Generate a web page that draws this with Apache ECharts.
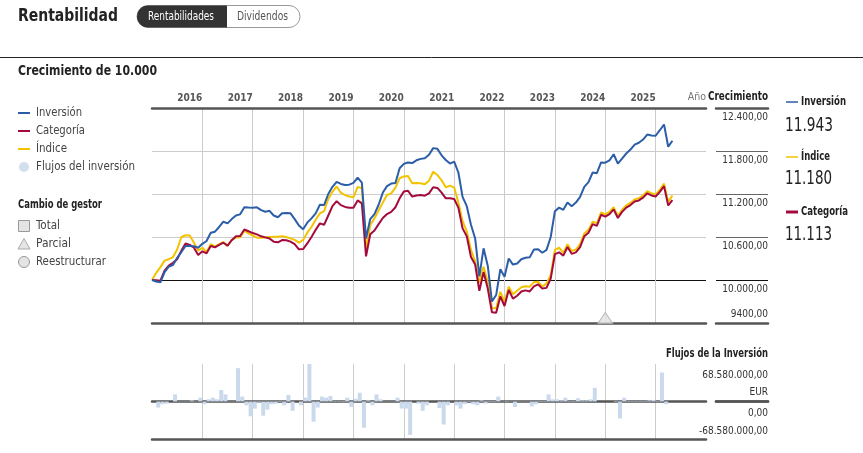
<!DOCTYPE html>
<html>
<head>
<meta charset="utf-8">
<title>Rentabilidad</title>
<script src="https://cdn.jsdelivr.net/npm/echarts@6/dist/echarts.min.js"></script>
<style>
  html, body { margin: 0; padding: 0; background: #fff; }
  #chart { width: 863px; height: 453px; }
</style>
</head>
<body>
<div id="chart"></div>
<script>
// crecimiento de 10.000, un valor por mes (mes 0 = inicio)
var inversion = [
  10000, 9980, 9968, 10110, 10186, 10210, 10310, 10390, 10474, 10474,
  10470, 10450, 10505, 10544, 10660, 10674, 10740, 10813, 10790, 10850,
  10900, 10916, 11014, 11010, 11009, 11014, 10975, 10953, 10965, 10900,
  10875, 10930, 10935, 10930, 10850, 10760, 10707, 10800, 10860, 10930,
  11050, 11045, 11200, 11300, 11370, 11340, 11325, 11330, 11355, 11430,
  11360, 10580, 10850, 10920, 11050, 11220, 11310, 11345, 11353, 11560,
  11620, 11640, 11632, 11670, 11690, 11700, 11748, 11840, 11830, 11740,
  11674, 11625, 11651, 11500, 11160, 11030, 10770, 10580, 10050, 10442,
  10200, 9700, 9790, 10150, 10046, 10300, 10215, 10230, 10290, 10310,
  10316, 10425, 10428, 10380, 10420, 10600, 10960, 11010, 10980, 11080,
  11030, 11080, 11160, 11300, 11365, 11500, 11490, 11640, 11637, 11670,
  11755, 11625, 11695, 11765, 11820, 11890, 11915, 11960, 12030, 12015,
  12013, 12090, 12170, 11860, 11943
]
var categoria = [
  10000, 9995, 9990, 10130, 10200, 10240, 10290, 10410, 10510, 10490,
  10450, 10350, 10400, 10372, 10474, 10456, 10490, 10520, 10480, 10555,
  10610, 10614, 10705, 10680, 10655, 10637, 10610, 10595, 10580, 10535,
  10526, 10558, 10555, 10535, 10500, 10428, 10432, 10510, 10600, 10700,
  10790, 10770, 10900, 11030, 11100, 11045, 11020, 11009, 11009, 11110,
  11070, 10330, 10637, 10690, 10780, 10865, 10920, 10950, 11015, 11140,
  11235, 11246, 11163, 11180, 11185, 11177, 11209, 11295, 11285, 11220,
  11140, 11140, 11130, 11010, 10720, 10610, 10320, 10215, 9850, 10110,
  9880, 9550, 9544, 9770, 9637, 9860, 9740, 9780, 9840, 9855,
  9840, 9910, 9940, 9880, 9890, 10020, 10360, 10386, 10340, 10460,
  10365, 10385, 10460, 10610, 10660, 10780, 10755, 10910, 10884, 10920,
  10985, 10865, 10950, 11010, 11045, 11095, 11110, 11150, 11210, 11180,
  11165, 11230, 11310, 11040, 11113
]
var indice = [
  10000, 10100, 10180, 10270, 10290, 10320, 10425, 10600, 10625, 10620,
  10520, 10410, 10450, 10390, 10500, 10465, 10500, 10530, 10474, 10558,
  10592, 10595, 10688, 10650, 10620, 10590, 10590, 10592, 10600, 10602,
  10605, 10612, 10600, 10581, 10560, 10521, 10558, 10660, 10740, 10840,
  10930, 10960, 11130, 11230, 11305, 11218, 11185, 11165, 11154, 11300,
  11280, 10420, 10767, 10860, 10970, 11080, 11186, 11209, 11290, 11420,
  11445, 11451, 11349, 11355, 11350, 11335, 11386, 11510, 11465, 11390,
  11293, 11316, 11290, 11080, 10820, 10680, 10420, 10260, 9960, 10186,
  9977, 9610, 9605, 9835, 9698, 9905, 9800, 9850, 9900, 9912,
  9907, 9970, 9977, 9910, 9950, 10070, 10420, 10450, 10380, 10500,
  10405, 10425, 10500, 10650, 10700, 10815, 10790, 10945, 10915, 10950,
  11015, 10895, 10980, 11040, 11075, 11125, 11140, 11180, 11240, 11210,
  11195, 11260, 11345, 11090, 11180
]
// flujos mensuales, millones de EUR
var flujos = [
  0, -11, -5, -4, 0, 13, 0.5, 0.5, 0.5, 2,
  0.5, 7, -5, 4, 7, 4, 21, 13, 0.5, 0.5,
  61, 9, -7, -27, -13, -2, -26, -15, -5, -4,
  1, -7, 12, -17, 0, -7, 7, 68.58, -37, -11,
  9, 7, 10, 1, 1, -1, 7, -10, 5, 16,
  -48, 2, -7, 13, 4, 0.5, 0.5, 0.5, 7, -13,
  -13, -61, 0, -4, -17, -7, 0, 0, -12, -42,
  -7, 0, -7, -13, -5, -1, -5, -7, 2, -4,
  -1, -1, 9, 0.5, 1, 0.5, -10, 0.5, 0.5, 0.5,
  -9, -5, 1, 1, 13, 4, 4, 2, 7, 1,
  1, 6, 2, 2, 4, 25, 0, 0, 0, 0,
  1, -31, 7, 1, 1, 1, 1, 1, 2, 3,
  1, 53, -5, 0
]
var cambiosGestor = [[108, 9470]] // parcial
var anios = ['2016', '2017', '2018', '2019', '2020', '2021', '2022', '2023', '2024', '2025']
var valoresY = [12400, 11800, 11200, 10600, 10000, 9400]
var etiquetasY = ['12.400,00', '11.800,00', '11.200,00', '10.600,00', '10.000,00', '9400,00']
var FLUJO_MAX = 68580000
var etiquetasFlujo = ['68.580.000,00\nEUR', '0,00', '-68.580.000,00']

var FONT = '"DejaVu Sans Condensed", "DejaVu Sans", sans-serif'
var AZUL = '#2c5ea8'
var ROJO = '#a50a3c'
var AMARILLO = '#f4c300'

var myChart = echarts.init(document.getElementById('chart'), null, { renderer: 'canvas' })

// para estrechar los textos a lo ancho de la fuente original (condensada)
var ctx = document.createElement('canvas').getContext('2d')
function ancho (text, font) {
  ctx.font = font
  return ctx.measureText(text).width
}

function lineaEje (pos, grid) {
  return {
    gridIndex: grid,
    type: 'value',
    min: 0,
    max: 132,
    position: pos,
    axisLine: { show: true, lineStyle: { color: '#555', width: 2.5 } },
    axisTick: { show: false },
    axisLabel: { show: false },
    splitLine: { show: false }
  }
}

function etiquetaY (v) {
  var i = valoresY.indexOf(v)
  return i >= 0 && v !== 9400 ? etiquetasY[i] : ''
}

// colores de las lineas horizontales, un tick cada 200
var coloresMain = []
var coloresDer = []
for (var v = 9400; v <= 12400; v += 200) {
  if (v === 10000) {
    coloresMain.push('#111')
    coloresDer.push('#111')
  } else if (v > 10000 && v < 12400 && (v - 10000) % 600 === 0) {
    coloresMain.push('#cccccc')
    coloresDer.push('#666')
  } else {
    coloresMain.push('rgba(0,0,0,0)')
    coloresDer.push('rgba(0,0,0,0)')
  }
}

var labelBase = { fontFamily: FONT, fontSize: 10, color: '#333', lineHeight: 13 }

var xAxes = [
  {
    gridIndex: 0,
    type: 'value',
    min: 0,
    max: 132,
    interval: 12,
    position: 'top',
    axisLine: { show: true, lineStyle: { color: '#555', width: 2.5 } },
    axisTick: { show: false },
    axisLabel: {
      show: true,
      margin: 5,
      align: 'right',
      showMinLabel: false,
      showMaxLabel: true,
      color: '#555',
      fontFamily: FONT,
      fontWeight: 'bold',
      fontSize: 10,
      formatter: function (v) {
        if (v === 132) return '{a|Año}'
        return v > 0 ? anios[v / 12 - 1] : ''
      },
      rich: { a: { color: '#777', fontWeight: 'normal', fontSize: 10.5, fontFamily: FONT } }
    },
    splitLine: { show: true, showMinLine: false, showMaxLine: false, lineStyle: { color: '#cccccc', width: 1 } }
  },
  lineaEje('bottom', 0),
  lineaEje('top', 1),
  lineaEje('bottom', 1),
  {
    gridIndex: 2,
    type: 'value',
    min: 0,
    max: 132,
    interval: 12,
    position: 'top',
    axisLine: { show: true, lineStyle: { color: '#555', width: 2.5 } },
    axisTick: { show: false },
    axisLabel: { show: false },
    splitLine: { show: true, showMinLine: false, showMaxLine: false, lineStyle: { color: '#cccccc', width: 1 } }
  },
  lineaEje('bottom', 2),
  lineaEje('top', 3),
  lineaEje('bottom', 3)
]

var yAxes = [
  {
    gridIndex: 0,
    type: 'value',
    min: 9400,
    max: 12400,
    interval: 200,
    axisLine: { show: false },
    axisTick: { show: false },
    axisLabel: { show: false },
    splitLine: { show: true, lineStyle: { color: coloresMain, width: 1 } }
  },
  {
    gridIndex: 1,
    type: 'value',
    min: 9400,
    max: 12400,
    interval: 200,
    position: 'right',
    axisLine: { show: false },
    axisTick: { show: false },
    axisLabel: Object.assign({
      inside: true,
      margin: 0,
      align: 'right',
      verticalAlign: 'top',
      padding: [3, 0, 0, 0],
      formatter: etiquetaY
    }, labelBase),
    splitLine: { show: true, lineStyle: { color: coloresDer, width: 1 } }
  },
  {
    gridIndex: 1,
    type: 'value',
    min: 9400,
    max: 12400,
    interval: 200,
    position: 'right',
    axisLine: { show: false },
    axisTick: { show: false },
    axisLabel: Object.assign({
      inside: true,
      margin: 0,
      align: 'right',
      verticalAlign: 'bottom',
      padding: [0, 0, 2, 0],
      formatter: function (v) { return v === 9400 ? etiquetasY[5] : '' }
    }, labelBase),
    splitLine: { show: false }
  },
  {
    gridIndex: 2,
    type: 'value',
    min: -FLUJO_MAX,
    max: FLUJO_MAX,
    interval: FLUJO_MAX,
    axisLine: { show: false },
    axisTick: { show: false },
    axisLabel: { show: false },
    splitLine: { show: true, lineStyle: { color: ['rgba(0,0,0,0)', '#9a9a9a', 'rgba(0,0,0,0)'], width: 1 } }
  },
  {
    gridIndex: 3,
    type: 'value',
    min: -FLUJO_MAX,
    max: FLUJO_MAX,
    interval: FLUJO_MAX,
    position: 'right',
    axisLine: { show: false },
    axisTick: { show: false },
    axisLabel: Object.assign({
      inside: true,
      margin: 0,
      align: 'right',
      verticalAlign: 'top',
      padding: [3, 0, 0, 0],
      formatter: function (v) {
        if (v === FLUJO_MAX) return etiquetasFlujo[0]
        if (v === 0) return etiquetasFlujo[1]
        return ''
      }
    }, labelBase, { lineHeight: 17 }),
    splitLine: { show: true, lineStyle: { color: ['rgba(0,0,0,0)', '#555', 'rgba(0,0,0,0)'], width: 1 } }
  },
  {
    gridIndex: 3,
    type: 'value',
    min: -FLUJO_MAX,
    max: FLUJO_MAX,
    interval: FLUJO_MAX,
    position: 'right',
    axisLine: { show: false },
    axisTick: { show: false },
    axisLabel: Object.assign({
      inside: true,
      margin: 0,
      align: 'right',
      verticalAlign: 'bottom',
      padding: [0, 0, 1, 0],
      formatter: function (v) { return v === -FLUJO_MAX ? etiquetasFlujo[2] : '' }
    }, labelBase),
    splitLine: { show: false }
  }
]

// texto de la leyenda / cabecera; w = ancho que ocupa en la referencia
function txt (text, x, y, w, opts) {
  var style = Object.assign({
    text: text,
    x: 0,
    y: 0,
    textVerticalAlign: 'middle',
    textAlign: 'left',
    font: '13px ' + FONT,
    fill: '#444'
  }, opts || {})
  var sx = w ? Math.min(1, w / ancho(text, style.font)) : 1
  return { type: 'text', silent: true, x: x, y: y, scaleX: sx, style: style }
}

function raya (x, y, color, w) {
  return {
    type: 'line',
    silent: true,
    shape: { x1: x, y1: y, x2: x + 12, y2: y },
    style: { stroke: color, lineWidth: w || 2 }
  }
}

var graphic = [
  // cabecera
  txt('Rentabilidad', 18, 16, 100, { font: 'bold 18px ' + FONT, fill: '#222' }),
  { type: 'rect', silent: true, shape: { x: 137, y: 5.5, width: 163, height: 22, r: 11 }, style: { fill: '#fff', stroke: '#999', lineWidth: 1 } },
  { type: 'rect', silent: true, shape: { x: 137, y: 5.5, width: 90, height: 22, r: [11, 0, 0, 11] }, style: { fill: '#333' } },
  txt('Rentabilidades', 181, 16.5, 66, { textAlign: 'center', font: '12px ' + FONT, fill: '#fff' }),
  txt('Dividendos', 262.5, 16.5, 51, { textAlign: 'center', font: '12px ' + FONT, fill: '#555' }),
  { type: 'line', silent: true, shape: { x1: 0, y1: 57.5, x2: 863, y2: 57.5 }, style: { stroke: '#222', lineWidth: 1 } },
  txt('Crecimiento de 10.000', 18, 71, 139, { font: 'bold 14px ' + FONT, fill: '#222' }),

  // leyenda izquierda
  raya(18, 113, AZUL), txt('Inversión', 36, 113, 46),
  raya(18, 131, ROJO), txt('Categoría', 36, 131, 49),
  raya(18, 149, AMARILLO), txt('Índice', 36, 149, 31),
  { type: 'circle', silent: true, shape: { cx: 24, cy: 167, r: 5 }, style: { fill: '#d3deee' } },
  txt('Flujos del inversión', 36, 167, 99),
  txt('Cambio de gestor', 18, 205, 84, { font: 'bold 12px ' + FONT, fill: '#222' }),
  { type: 'rect', silent: true, shape: { x: 18.5, y: 220.5, width: 11, height: 11 }, style: { fill: '#e4e4e4', stroke: '#999', lineWidth: 1 } },
  txt('Total', 36, 226, 24),
  { type: 'polygon', silent: true, shape: { points: [[24, 238.5], [30, 249], [18, 249]] }, style: { fill: '#e4e4e4', stroke: '#aaa', lineWidth: 1 } },
  txt('Parcial', 36, 244, 35),
  { type: 'circle', silent: true, shape: { cx: 24, cy: 262, r: 5.5 }, style: { fill: '#e4e4e4', stroke: '#999', lineWidth: 1 } },
  txt('Reestructurar', 36, 262, 70),

  // cabeceras de ejes
  txt('Crecimiento', 768, 97, 60, { textAlign: 'right', font: 'bold 12px ' + FONT, fill: '#222' }),
  txt('Flujos de la Inversión', 768, 354, 102, { textAlign: 'right', font: 'bold 12px ' + FONT, fill: '#222' }),

  // leyenda derecha con valores finales
  raya(786, 102, AZUL, 1.5), txt('Inversión', 801, 102, 45, { font: 'bold 12px ' + FONT, fill: '#222' }),
  txt('11.943', 785, 126, 48, { font: '19px ' + FONT, fill: '#222' }),
  raya(786, 157, AMARILLO, 1.5), txt('Índice', 801, 157, 29, { font: 'bold 12px ' + FONT, fill: '#222' }),
  txt('11.180', 785, 179, 47, { font: '19px ' + FONT, fill: '#222' }),
  raya(786, 212, ROJO, 3), txt('Categoría', 801, 212, 47, { font: 'bold 12px ' + FONT, fill: '#222' }),
  txt('11.113', 785, 235, 47, { font: '19px ' + FONT, fill: '#222' })
]

function serie (nombre, datos, color) {
  return {
    name: nombre,
    type: 'line',
    xAxisIndex: 0,
    yAxisIndex: 0,
    showSymbol: false,
    symbol: 'none',
    lineStyle: { color: color, width: 2 },
    itemStyle: { color: color },
    data: datos.map(function (val, i) { return [i, val] })
  }
}

myChart.setOption({
  animation: false,
  backgroundColor: '#fff',
  textStyle: { fontFamily: FONT },
  grid: [
    { left: 152, top: 108, width: 554, height: 215 },
    { left: 716, top: 108, width: 52, height: 215 },
    { left: 152, top: 364, width: 554, height: 75 },
    { left: 716, top: 364, width: 52, height: 75 }
  ],
  xAxis: xAxes,
  yAxis: yAxes,
  graphic: graphic,
  series: [
    serie('Índice', indice, AMARILLO),
    serie('Categoría', categoria, ROJO),
    serie('Inversión', inversion, AZUL),
    {
      name: 'Cambio de gestor',
      type: 'scatter',
      xAxisIndex: 0,
      yAxisIndex: 0,
      symbol: 'triangle',
      symbolSize: [15, 11],
      itemStyle: { color: '#e2e2e2', borderColor: '#b0b0b0', borderWidth: 1 },
      data: cambiosGestor
    },
    {
      name: 'Flujos del inversión',
      type: 'bar',
      xAxisIndex: 4,
      yAxisIndex: 3,
      barWidth: 4,
      itemStyle: { color: '#cbd9ed' },
      data: flujos.map(function (val, k) { return [k + 0.5, val * 1000000] })
    }
  ]
})

window.onresize = function () {
  myChart.resize()
}
</script>
</body>
</html>
